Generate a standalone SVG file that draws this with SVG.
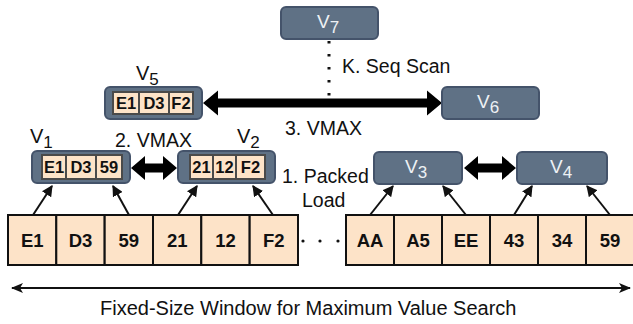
<svg xmlns="http://www.w3.org/2000/svg" width="633" height="324" viewBox="0 0 633 324">
<defs>
<style>
.box{fill:#5f7185;stroke:#44536a;stroke-width:2}
.ic{fill:#fde3c8;stroke:#4a4a4a;stroke-width:2}
.mc{fill:#fde3c8;stroke:#111;stroke-width:2}
.t{font-family:"Liberation Sans",Arial,sans-serif;font-size:19.5px;fill:#111}
.vl{font-family:"Liberation Sans",Arial,sans-serif;font-size:20px;fill:#111}
.vw{font-family:"Liberation Sans",Arial,sans-serif;font-size:19px;fill:#eef1f5}
.sub{font-size:17px}
.it{font-family:"Liberation Sans",Arial,sans-serif;font-size:16.5px;font-weight:bold;fill:#111;text-anchor:middle}
.mt{font-family:"Liberation Sans",Arial,sans-serif;font-size:18.5px;font-weight:bold;fill:#111;text-anchor:middle}
.thin{stroke:#111;stroke-width:2;fill:none;marker-end:url(#ah)}
</style>
<marker id="ah" viewBox="0 0 10 10" refX="9" refY="5" markerWidth="5.5" markerHeight="5.5" orient="auto" markerUnits="strokeWidth">
<path d="M0,0 L10,5 L0,10 z" fill="#111"/>
</marker>
<marker id="bh" viewBox="0 0 12 10" refX="11" refY="5" markerWidth="6" markerHeight="5" orient="auto-start-reverse" markerUnits="strokeWidth">
<path d="M0,0 L12,5 L0,10 L3,5 z" fill="#111"/>
</marker>
</defs>

<g id="connectors">
<line x1="329" y1="41" x2="329" y2="96" stroke="#111" stroke-width="3" stroke-dasharray="2.5 10.5"/>
<polygon points="203,103 218,90.5 218,98.5 427,98.5 427,90.5 442,103 427,115.5 427,107.5 218,107.5 218,115.5" fill="#000"/>
<polygon points="131,168 145,156 145,163.5 163,163.5 163,156 177,168 163,180 163,172.5 145,172.5 145,180" fill="#000"/>
<polygon points="464,168 478,156 478,163.5 502,163.5 502,156 516,168 502,180 502,172.5 478,172.5 478,180" fill="#000"/>
<line class="thin" x1="33" y1="215" x2="52" y2="186"/>
<line class="thin" x1="129" y1="215" x2="113" y2="186"/>
<line class="thin" x1="178" y1="215" x2="197" y2="186"/>
<line class="thin" x1="273" y1="215" x2="253" y2="186"/>
<line class="thin" x1="370" y1="215" x2="393" y2="186"/>
<line class="thin" x1="466" y1="215" x2="443" y2="186"/>
<line class="thin" x1="514" y1="215" x2="532" y2="186"/>
<line class="thin" x1="610" y1="215" x2="587" y2="186"/>
<line x1="12" y1="288" x2="630" y2="288" stroke="#111" stroke-width="2" marker-start="url(#bh)" marker-end="url(#bh)"/>
</g>

<g id="V7">
<rect class="box" x="281" y="7" width="97" height="32" rx="5"/>
<text class="vw" x="317" y="28">V<tspan class="sub" dy="5">7</tspan></text>
</g>
<g id="V6">
<rect class="box" x="442" y="87" width="97" height="32" rx="5"/>
<text class="vw" x="477" y="108">V<tspan class="sub" dy="5">6</tspan></text>
</g>
<g id="V5">
<text class="vl" x="136" y="80">V<tspan class="sub" dy="5">5</tspan></text>
<rect class="box" x="105" y="87" width="97" height="32" rx="5"/>
<rect class="ic" x="113" y="92" width="26" height="22"/>
<rect class="ic" x="139" y="92" width="30" height="22"/>
<rect class="ic" x="169" y="92" width="24" height="22"/>
<text class="it" x="126" y="109">E1</text>
<text class="it" x="154" y="109">D3</text>
<text class="it" x="181" y="109">F2</text>
</g>
<g id="V1">
<text class="vl" x="30" y="143">V<tspan class="sub" dy="5">1</tspan></text>
<rect class="box" x="32" y="151" width="98" height="32" rx="5"/>
<rect class="ic" x="42" y="155" width="24" height="24"/>
<rect class="ic" x="66" y="155" width="30" height="24"/>
<rect class="ic" x="96" y="155" width="26" height="24"/>
<text class="it" x="54" y="173">E1</text>
<text class="it" x="81" y="173">D3</text>
<text class="it" x="109" y="173">59</text>
</g>
<g id="V2">
<text class="vl" x="237" y="143">V<tspan class="sub" dy="5">2</tspan></text>
<rect class="box" x="178" y="151" width="97" height="32" rx="5"/>
<rect class="ic" x="190" y="155" width="23" height="24"/>
<rect class="ic" x="213" y="155" width="23" height="24"/>
<rect class="ic" x="236" y="155" width="29" height="24"/>
<text class="it" x="201.5" y="173">21</text>
<text class="it" x="224.5" y="173">12</text>
<text class="it" x="250.5" y="173">F2</text>
</g>
<g id="V3">
<rect class="box" x="374" y="152" width="88" height="32" rx="5"/>
<text class="vw" x="405" y="173">V<tspan class="sub" dy="5">3</tspan></text>
</g>
<g id="V4">
<rect class="box" x="517" y="152" width="90" height="32" rx="5"/>
<text class="vw" x="550" y="173">V<tspan class="sub" dy="5">4</tspan></text>
</g>

<g id="memory-left">
<rect class="mc" x="8" y="215" width="48.3" height="50"/>
<rect class="mc" x="56.3" y="215" width="48.3" height="50"/>
<rect class="mc" x="104.7" y="215" width="48.3" height="50"/>
<rect class="mc" x="153" y="215" width="48.3" height="50"/>
<rect class="mc" x="201.3" y="215" width="48.3" height="50"/>
<rect class="mc" x="249.7" y="215" width="48.3" height="50"/>
<text class="mt" x="32.2" y="247">E1</text>
<text class="mt" x="80.5" y="247">D3</text>
<text class="mt" x="128.8" y="247">59</text>
<text class="mt" x="177.2" y="247">21</text>
<text class="mt" x="225.5" y="247">12</text>
<text class="mt" x="273.8" y="247">F2</text>
</g>
<g id="ellipsis">
<circle cx="303" cy="241" r="1.6" fill="#111"/>
<circle cx="320" cy="241" r="1.6" fill="#111"/>
<circle cx="338" cy="241" r="1.6" fill="#111"/>
</g>
<g id="memory-right">
<rect class="mc" x="346" y="215" width="48" height="50"/>
<rect class="mc" x="394" y="215" width="48" height="50"/>
<rect class="mc" x="442" y="215" width="48" height="50"/>
<rect class="mc" x="490" y="215" width="48" height="50"/>
<rect class="mc" x="538" y="215" width="48" height="50"/>
<rect class="mc" x="586" y="215" width="48" height="50"/>
<text class="mt" x="370" y="247">AA</text>
<text class="mt" x="418" y="247">A5</text>
<text class="mt" x="466" y="247">EE</text>
<text class="mt" x="514" y="247">43</text>
<text class="mt" x="562" y="247">34</text>
<text class="mt" x="610" y="247">59</text>
</g>

<g id="labels">
<text class="t" x="342" y="73">K. Seq Scan</text>
<text class="t" x="285" y="135">3. VMAX</text>
<text class="t" x="115" y="147">2. VMAX</text>
<text class="t" x="282" y="183">1. Packed</text>
<text class="t" x="302" y="207">Load</text>
<text class="t" x="100" y="315" style="font-size:20px">Fixed-Size Window for Maximum Value Search</text>
</g>
</svg>
